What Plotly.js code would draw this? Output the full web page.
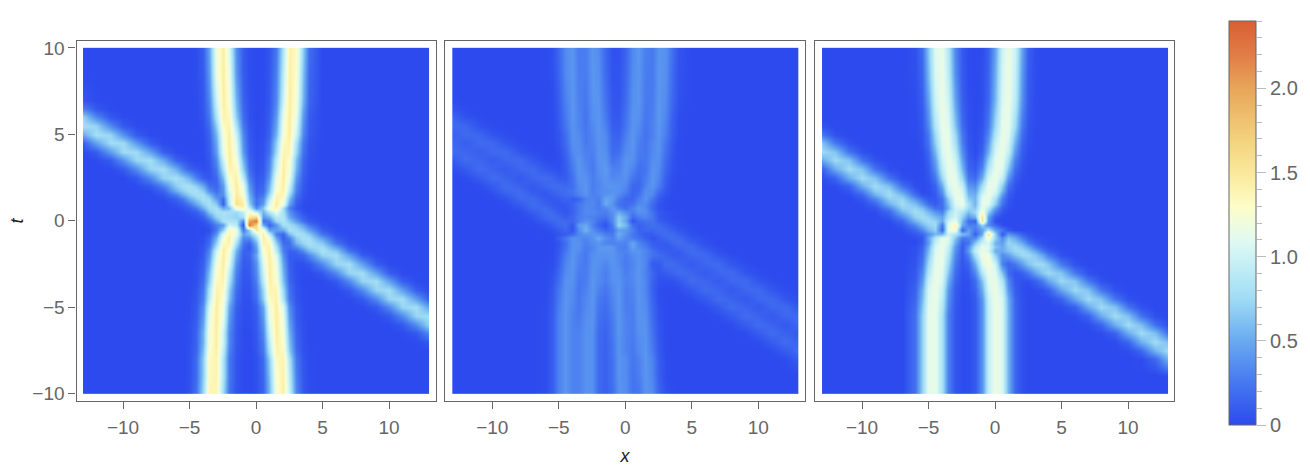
<!DOCTYPE html>
<html>
<head>
<meta charset="utf-8">
<script src="https://cdn.plot.ly/plotly-3.0.1.min.js"></script>
<style>html,body{margin:0;padding:0;background:#fff}</style>
</head>
<body>
<div id="chart" style="width:1310px;height:474px"></div>
<script>
// sample positions, rows below run from t=10 down to t=-10
let xVals = [-13,-12,-11,-10,-9,-8,-7,-6,-5.5,-5,-4.5,-4,-3.5,-3,-2.5,-2,-1.5,-1,-0.5,0,0.5,1,1.5,2,2.5,3,3.5,4,5,6,7,8,9,10,11,12,13];
let tVals = [10,8.5,7,6.5,6,5.5,5,4.5,4,3.5,3,2.5,2,1.75,1.5,1.25,1,0.75,0.5,0.25,0,-0.25,-0.5,-0.75,-1,-1.25,-1.5,-1.75,-2,-2.5,-3,-3.5,-4,-4.5,-5,-5.5,-6,-6.5,-7,-7.5,-8,-9,-10];

// values, in hundredths
let panelA = [
[0,0,0,0,0,0,0,0,0,0,2,12,48,119,145,107,37,9,2,0,1,6,25,83,140,133,68,19,0,0,0,0,0,0,0,0,0],
[0,0,0,0,0,0,0,0,0,0,2,10,42,115,145,115,42,10,2,0,1,7,29,91,142,128,61,16,0,0,0,0,0,0,0,0,0],
[7,1,0,0,0,0,0,0,0,0,1,8,33,99,144,123,55,14,3,0,1,8,33,99,144,123,55,14,0,0,0,0,0,0,0,0,0],
[30,8,1,0,0,0,0,0,0,0,1,7,29,91,142,128,61,16,4,0,2,9,37,107,145,119,48,12,0,0,0,0,0,0,0,0,0],
[70,33,8,1,0,0,0,0,0,0,1,6,25,83,140,133,68,19,4,0,2,10,42,115,145,115,42,10,0,0,0,0,0,0,0,0,0],
[78,71,35,9,1,0,0,0,0,0,0,4,19,68,133,140,83,25,6,1,2,12,48,119,145,107,37,9,0,0,0,0,0,0,0,0,0],
[49,78,73,39,10,1,0,0,0,0,0,3,14,55,123,144,99,33,8,1,3,14,55,123,144,99,33,8,0,0,0,0,0,0,0,0,0],
[12,46,76,75,42,11,1,0,0,0,0,2,12,48,119,145,107,37,9,2,4,19,68,133,140,83,25,6,0,0,0,0,0,0,0,0,0],
[1,11,42,75,76,46,12,1,0,0,0,2,10,42,115,145,115,42,10,2,5,22,75,138,138,75,22,5,0,0,0,0,0,0,0,0,0],
[0,1,10,39,73,78,49,13,7,2,0,1,8,33,99,144,123,55,14,3,7,29,91,142,128,61,16,4,0,0,0,0,0,0,0,0,0],
[0,0,1,9,35,72,78,52,28,14,7,3,6,25,83,140,133,68,19,4,8,33,99,144,123,55,14,3,0,0,0,0,0,0,0,0,0],
[0,0,0,0,8,33,70,79,68,54,29,12,7,16,61,128,142,91,29,7,11,42,115,145,115,42,10,2,0,0,0,0,0,0,0,0,0],
[0,0,0,0,1,8,30,68,79,80,69,49,21,15,43,115,145,115,42,10,16,55,123,144,99,33,8,1,0,0,0,0,0,0,0,0,0],
[0,0,0,0,0,2,14,52,68,78,80,67,36,20,40,107,145,119,48,12,18,61,128,142,91,29,7,1,0,0,0,0,0,0,0,0,0],
[0,0,0,0,0,0,7,28,51,67,78,78,60,30,37,99,148,128,55,14,25,75,138,138,75,22,5,1,0,0,0,0,0,0,0,0,0],
[0,0,0,0,0,0,2,13,27,49,67,80,74,46,18,96,150,135,60,22,35,91,142,128,61,16,4,1,0,0,0,0,0,0,0,0,0],
[0,0,0,0,0,0,0,6,13,26,49,69,80,66,12,91,155,145,70,20,42,107,145,119,48,12,2,0,0,0,0,0,0,0,0,0,0],
[0,0,0,0,0,0,0,2,6,12,26,54,76,80,50,60,125,135,95,35,65,125,140,80,30,8,1,0,0,0,0,0,0,0,0,0,0],
[0,0,0,0,0,0,0,0,2,6,12,29,64,80,80,78,75,95,130,95,55,85,115,80,40,18,5,1,0,0,0,0,0,0,0,0,0],
[0,0,0,0,0,0,0,0,1,2,5,13,37,70,80,75,70,80,150,165,40,55,90,85,50,28,12,4,0,0,0,0,0,0,0,0,0],
[0,0,0,0,0,0,0,0,0,1,2,6,19,49,80,84,80,35,200,225,20,30,75,85,65,42,20,8,1,0,0,0,0,0,0,0,0],
[0,0,0,0,0,0,0,0,0,0,1,2,9,27,45,100,90,5,225,170,50,15,40,80,77,65,45,23,4,0,0,0,0,0,0,0,0],
[0,0,0,0,0,0,0,0,0,0,0,1,3,25,70,135,120,25,70,150,125,45,45,50,80,77,65,45,11,1,0,0,0,0,0,0,0],
[0,0,0,0,0,0,0,0,0,0,1,2,8,37,107,135,115,45,60,100,142,91,29,15,59,80,77,65,23,4,0,0,0,0,0,0,0],
[0,0,0,0,0,0,0,0,0,0,0,4,14,55,123,144,99,33,35,75,145,119,48,12,30,67,80,77,45,11,1,0,0,0,0,0,0],
[0,0,0,0,0,0,0,0,0,0,1,4,19,68,133,140,83,25,15,55,140,133,68,19,18,57,72,80,65,23,4,0,0,0,0,0,0],
[0,0,0,0,0,0,0,0,0,0,2,6,25,83,140,133,68,19,8,45,133,140,83,25,20,34,57,72,77,45,11,1,0,0,0,0,0],
[0,0,0,0,0,0,0,0,0,0,1,8,33,99,144,123,55,14,12,40,128,142,91,29,12,16,34,57,80,65,23,4,0,0,0,0,0],
[0,0,0,0,0,0,0,0,0,0,1,9,37,107,145,119,48,12,15,48,119,145,107,37,9,11,16,34,72,77,45,11,1,0,0,0,0],
[0,0,0,0,0,0,0,0,0,0,3,12,48,119,145,107,37,9,11,37,107,145,119,48,12,3,3,8,34,72,77,45,11,1,0,0,0],
[0,0,0,0,0,0,0,0,0,0,4,16,61,128,142,91,29,7,9,33,99,144,123,55,14,3,1,1,8,34,72,77,45,11,1,0,0],
[0,0,0,0,0,0,0,0,0,0,4,19,68,133,140,83,25,6,7,29,91,142,128,61,16,4,0,0,1,8,34,72,77,45,11,1,0],
[0,0,0,0,0,0,0,0,0,1,6,25,83,140,133,68,19,4,5,22,75,138,138,75,22,5,1,0,0,1,8,34,72,77,45,11,1],
[0,0,0,0,0,0,0,0,0,1,7,29,91,142,128,61,16,4,4,19,68,133,140,83,25,6,1,0,0,0,1,8,34,72,77,45,11],
[0,0,0,0,0,0,0,0,0,2,9,37,107,145,119,48,12,3,3,12,48,119,145,107,37,9,2,0,0,0,0,1,8,34,72,77,45],
[0,0,0,0,0,0,0,0,0,2,10,42,115,145,115,42,10,2,2,10,42,115,145,115,42,10,2,0,0,0,0,0,1,8,34,72,77],
[0,0,0,0,0,0,0,0,0,3,12,48,119,145,107,37,9,2,2,9,37,107,145,119,48,12,3,0,0,0,0,0,0,1,8,34,72],
[0,0,0,0,0,0,0,0,0,3,14,55,123,144,99,33,8,1,1,8,33,99,144,123,55,14,3,0,0,0,0,0,0,0,1,8,34],
[0,0,0,0,0,0,0,0,0,3,14,55,123,144,99,33,8,1,1,7,29,91,142,128,61,16,4,0,0,0,0,0,0,0,0,1,8],
[0,0,0,0,0,0,0,0,0,4,16,61,128,142,91,29,7,1,0,6,25,83,140,133,68,19,4,1,0,0,0,0,0,0,0,0,1],
[0,0,0,0,0,0,0,0,0,4,19,68,133,140,83,25,6,1,0,4,19,68,133,140,83,25,6,1,0,0,0,0,0,0,0,0,0],
[0,0,0,0,0,0,0,0,0,4,19,68,133,140,83,25,6,1,0,4,16,61,128,142,91,29,7,1,0,0,0,0,0,0,0,0,0],
[0,0,0,0,0,0,0,0,0,5,22,75,138,138,75,22,5,1,0,3,14,55,123,144,99,33,8,2,0,0,0,0,0,0,0,0,0]
];
let panelB = [
[0,0,0,0,0,0,0,1,4,16,35,40,27,27,40,35,16,4,4,14,34,41,28,26,39,38,20,6,0,0,0,0,0,0,0,0,0],
[0,0,0,0,0,0,0,1,3,14,34,40,28,27,40,37,18,5,5,16,35,40,27,26,40,37,18,5,0,0,0,0,0,0,0,0,0],
[1,0,0,0,0,0,0,0,2,11,30,40,30,25,39,39,22,7,6,18,37,40,26,27,40,35,16,4,0,0,0,0,0,0,0,0,0],
[5,1,0,0,0,0,0,0,2,10,28,40,31,24,37,39,24,8,7,20,38,39,25,28,41,34,14,3,0,0,0,0,0,0,0,0,0],
[15,5,1,0,0,0,0,0,1,9,26,40,32,24,37,40,26,9,8,22,39,38,24,29,41,32,12,2,0,0,0,0,0,0,0,0,0],
[18,16,5,1,0,0,0,0,1,8,24,39,32,24,34,40,30,11,10,24,39,35,24,30,40,30,11,2,0,0,0,0,0,0,0,0,0],
[12,18,16,6,2,0,0,0,1,6,20,38,35,25,32,40,34,14,13,28,40,32,22,30,40,28,10,2,0,0,0,0,0,0,0,0,0],
[16,11,18,17,7,2,0,0,1,5,18,37,36,26,31,39,35,16,16,32,40,28,24,33,39,24,8,1,0,0,0,0,0,0,0,0,0],
[19,16,11,17,18,7,2,0,0,3,14,34,37,29,29,39,37,18,21,35,39,27,24,34,39,22,7,1,0,0,0,0,0,0,0,0,0],
[9,19,15,10,16,18,8,2,1,2,11,30,40,31,27,39,39,22,27,39,37,25,25,36,37,18,5,1,0,0,0,0,0,0,0,0,0],
[2,9,19,14,9,16,18,8,5,3,10,26,40,34,26,37,42,30,30,40,32,20,24,39,35,16,4,1,0,0,0,0,0,0,0,0,0],
[0,2,9,19,14,8,15,19,15,10,10,22,38,38,28,34,40,33,35,38,24,18,27,40,32,12,2,0,0,0,0,0,0,0,0,0,0],
[0,0,2,9,19,13,8,15,19,19,17,20,35,40,28,32,39,40,38,34,16,15,32,40,28,10,2,0,0,0,0,0,0,0,0,0,0],
[0,0,1,5,16,18,9,9,14,18,19,24,33,40,28,34,36,38,38,30,15,18,36,36,20,7,1,0,0,0,0,0,0,0,0,0,0],
[0,0,0,2,10,19,13,7,10,14,18,22,30,38,30,32,40,42,34,24,14,22,38,32,14,5,1,0,0,0,0,0,0,0,0,0,0],
[0,0,0,1,5,16,18,9,7,9,14,10,14,30,32,28,48,42,26,16,16,28,38,24,9,3,0,0,0,0,0,0,0,0,0,0,0],
[0,0,0,0,2,10,19,12,9,7,9,15,25,32,34,26,50,38,22,18,22,34,34,18,6,2,0,0,0,0,0,0,0,0,0,0,0],
[0,0,0,0,1,5,16,18,12,8,7,14,25,34,32,28,34,42,30,20,30,40,34,16,6,2,0,0,0,0,0,0,0,0,0,0,0],
[0,0,0,0,0,2,10,19,17,11,6,14,25,34,34,30,28,38,50,36,28,38,36,22,8,4,2,1,0,0,0,0,0,0,0,0,0],
[0,0,0,0,0,1,5,16,19,17,11,16,27,32,30,26,22,36,66,50,18,28,32,24,9,4,2,1,0,0,0,0,0,0,0,0,0],
[0,0,0,0,0,0,2,10,16,19,17,16,28,38,32,20,12,34,68,48,6,18,22,22,12,7,3,2,0,0,0,0,0,0,0,0,0],
[0,0,0,0,0,0,1,5,10,16,19,8,42,50,30,15,5,28,72,58,22,12,18,22,18,12,7,3,1,0,0,0,0,0,0,0,0],
[0,0,0,0,0,0,0,2,5,10,16,5,35,55,36,26,15,22,45,42,28,14,16,16,19,18,12,7,2,0,0,0,0,0,0,0,0],
[0,0,0,0,0,0,0,1,2,6,10,18,32,40,40,38,28,26,52,38,25,16,10,10,16,19,18,12,3,1,0,0,0,0,0,0,0],
[0,0,0,0,0,0,0,0,1,11,25,38,36,32,38,50,36,30,44,34,28,22,12,6,10,16,19,18,7,2,0,0,0,0,0,0,0],
[0,0,0,0,0,0,0,0,1,6,20,38,38,28,36,40,32,30,32,30,48,32,22,11,10,10,16,19,12,3,0,0,0,0,0,0,0],
[0,0,0,0,0,0,0,0,1,7,22,39,37,27,32,40,42,40,30,28,46,34,28,15,11,9,10,16,18,7,2,0,0,0,0,0,0],
[0,0,0,0,0,0,0,0,1,8,24,39,35,26,34,40,40,40,32,30,39,40,32,22,14,11,9,10,19,12,3,0,0,0,0,0,0],
[0,0,0,0,0,0,0,0,2,10,28,40,32,26,37,39,38,40,34,28,35,39,32,22,19,14,10,9,16,18,7,2,0,0,0,0,0],
[0,0,0,0,0,0,0,1,2,12,32,40,30,26,38,38,32,39,35,26,32,40,32,9,9,19,19,15,9,16,18,7,2,0,0,0,0],
[0,0,0,0,0,0,0,1,4,16,35,39,27,27,39,35,28,38,38,28,34,40,30,16,6,10,14,19,15,9,16,18,7,2,0,0,0],
[0,0,0,0,0,0,0,1,6,20,38,38,25,28,40,34,28,37,39,30,33,40,32,13,5,3,4,8,19,15,9,16,18,7,2,0,0],
[0,0,0,0,0,0,0,1,8,24,39,35,24,30,40,30,24,34,40,28,31,40,32,12,2,1,1,2,8,19,15,8,16,18,7,2,0],
[0,0,0,0,0,0,0,1,9,26,40,34,25,33,40,26,21,32,40,28,30,40,34,14,3,1,0,0,2,8,19,14,8,16,18,7,2],
[0,0,0,0,0,0,0,2,10,28,40,32,25,34,39,24,19,30,40,28,28,39,35,16,4,1,0,0,0,2,9,19,14,8,16,18,7],
[0,0,0,0,0,0,0,2,11,30,40,30,26,36,39,22,17,28,40,30,28,39,37,18,5,1,0,0,0,0,2,9,19,14,8,16,18],
[0,0,0,0,0,0,0,2,11,30,40,30,28,37,38,20,15,26,40,31,28,38,38,20,6,1,0,0,0,0,0,2,10,19,14,8,16],
[0,0,0,0,0,0,0,2,11,30,40,30,30,38,37,18,14,26,40,31,27,37,39,22,7,1,0,0,0,0,0,0,2,10,19,13,8],
[0,0,0,0,0,0,0,2,11,30,40,30,30,38,37,18,13,24,39,31,26,35,39,24,8,1,0,0,0,0,0,0,0,2,10,19,13],
[0,0,0,0,0,0,0,2,11,30,40,30,30,38,37,18,13,24,39,31,25,34,40,26,9,1,0,0,0,0,0,0,0,0,2,10,19],
[0,0,0,0,0,0,0,2,11,30,40,30,30,38,37,18,13,22,39,35,24,30,40,30,11,2,0,0,0,0,0,0,0,0,0,2,10],
[0,0,0,0,0,0,0,2,11,30,40,30,30,38,37,18,13,22,39,35,23,28,40,32,12,2,0,0,0,0,0,0,0,0,0,0,0],
[0,0,0,0,0,0,0,2,11,30,40,30,30,38,37,18,12,20,38,36,23,24,39,35,16,4,1,0,0,0,0,0,0,0,0,0,0]
];
let panelC = [
[0,0,0,0,0,0,0,4,19,63,110,116,86,33,8,1,0,2,12,46,100,118,100,46,12,2,0,0,0,0,0,0,0,0,0,0,0],
[0,0,0,0,0,0,0,3,16,57,107,117,91,37,9,1,0,3,14,52,104,118,96,41,10,2,0,0,0,0,0,0,0,0,0,0,0],
[0,0,0,0,0,0,0,2,12,46,100,118,100,46,12,2,0,3,16,57,107,117,91,37,9,1,0,0,0,0,0,0,0,0,0,0,0],
[0,0,0,0,0,0,0,2,10,41,96,118,104,52,14,3,0,4,19,63,110,116,86,33,8,1,0,0,0,0,0,0,0,0,0,0,0],
[0,0,0,0,0,0,0,1,9,37,91,117,107,57,16,3,0,5,22,69,112,115,80,29,7,1,0,0,0,0,0,0,0,0,0,0,0],
[4,0,0,0,0,0,0,1,8,33,86,116,110,63,19,4,0,6,25,75,114,114,75,25,6,1,0,0,0,0,0,0,0,0,0,0,0],
[25,4,0,0,0,0,0,1,6,25,75,114,114,75,25,6,1,8,33,86,116,110,63,19,4,0,0,0,0,0,0,0,0,0,0,0,0],
[63,25,4,0,0,0,0,0,5,22,69,112,115,80,29,7,1,10,41,96,118,104,52,14,3,0,0,0,0,0,0,0,0,0,0,0,0],
[75,63,23,4,0,0,0,0,3,16,57,107,117,91,37,9,1,14,52,104,118,96,41,10,2,0,0,0,0,0,0,0,0,0,0,0,0],
[50,75,62,23,4,0,0,0,2,12,46,100,118,100,46,12,5,22,69,112,115,80,29,7,1,0,0,0,0,0,0,0,0,0,0,0,0],
[13,51,76,62,22,3,0,0,1,9,37,91,117,107,57,16,9,33,86,116,110,63,19,4,0,0,0,0,0,0,0,0,0,0,0,0,0],
[2,14,52,76,61,22,3,0,1,6,25,75,114,114,75,25,18,52,104,118,96,41,10,2,0,0,0,0,0,0,0,0,0,0,0,0,0],
[0,2,14,52,76,60,21,3,1,3,14,52,104,118,96,41,35,80,115,112,69,22,5,0,0,0,0,0,0,0,0,0,0,0,0,0,0],
[0,0,7,30,67,73,41,10,0,3,10,41,96,118,104,52,45,91,117,107,57,16,3,0,0,0,0,0,0,0,0,0,0,0,0,0,0],
[0,0,2,15,53,76,60,21,6,4,8,33,86,116,110,58,52,104,118,96,41,10,2,0,0,0,0,0,0,0,0,0,0,0,0,0,0],
[0,0,0,7,32,68,72,40,21,8,8,22,69,112,115,68,55,112,115,80,29,7,1,0,0,0,0,0,0,0,0,0,0,0,0,0,0],
[0,0,0,2,15,54,76,60,40,20,10,22,60,107,117,80,55,115,112,69,22,5,0,0,0,0,0,0,0,0,0,0,0,0,0,0,0],
[0,0,0,0,7,32,69,72,60,40,20,20,55,100,105,75,65,118,90,45,12,3,0,0,0,0,0,0,0,0,0,0,0,0,0,0,0],
[0,0,0,0,2,16,55,76,72,58,40,30,75,100,85,60,75,130,70,28,7,1,0,0,0,0,0,0,0,0,0,0,0,0,0,0,0],
[0,0,0,0,0,8,33,69,76,71,58,48,85,105,70,40,55,155,45,10,2,0,0,0,0,0,0,0,0,0,0,0,0,0,0,0,0],
[0,0,0,0,0,2,16,55,69,76,71,50,100,115,60,20,15,160,40,3,0,0,0,0,0,0,0,0,0,0,0,0,0,0,0,0,0],
[0,0,0,0,0,0,8,33,56,69,76,25,110,140,50,30,30,70,35,18,3,0,0,0,0,0,0,0,0,0,0,0,0,0,0,0,0],
[0,0,0,0,0,0,2,16,33,56,69,15,115,125,15,45,25,45,85,45,25,8,1,0,0,0,0,0,0,0,0,0,0,0,0,0,0],
[0,0,0,0,0,0,0,8,16,35,56,55,100,85,60,50,12,50,155,70,8,40,28,13,5,2,0,0,0,0,0,0,0,0,0,0,0],
[0,0,0,0,0,0,0,3,8,45,86,116,110,63,25,30,35,80,130,70,35,63,50,28,13,5,2,1,0,0,0,0,0,0,0,0,0],
[0,0,0,0,0,0,0,0,10,41,96,118,104,52,14,22,65,100,105,55,45,72,65,50,28,13,5,2,0,0,0,0,0,0,0,0,0],
[0,0,0,0,0,0,0,3,14,52,104,118,96,41,10,36,86,116,110,63,50,68,75,65,50,27,13,5,1,0,0,0,0,0,0,0,0],
[0,0,0,0,0,0,0,3,16,57,107,117,91,37,9,41,96,118,104,52,50,62,74,75,65,49,27,13,2,0,0,0,0,0,0,0,0],
[0,0,0,0,0,0,0,4,19,63,110,116,86,33,8,29,80,120,122,69,35,44,63,74,75,65,49,27,4,0,0,0,0,0,0,0,0],
[0,0,0,0,0,0,0,6,25,75,114,114,75,25,6,14,52,108,125,100,30,15,25,45,63,74,75,64,26,4,0,0,0,0,0,0,0],
[0,0,0,0,0,0,0,8,33,86,116,110,63,19,4,8,33,86,116,110,63,19,6,12,25,47,64,74,64,25,4,0,0,0,0,0,0],
[0,0,0,0,0,0,0,10,41,96,118,104,52,14,3,4,19,63,110,116,86,33,8,4,4,12,26,47,74,63,25,4,0,0,0,0,0],
[0,0,0,0,0,0,0,14,52,104,118,96,41,10,2,3,14,52,104,118,96,41,10,2,0,2,5,12,48,74,63,24,4,0,0,0,0],
[0,0,0,0,0,0,0,16,57,107,117,91,37,9,1,2,10,41,96,118,104,52,14,3,0,0,1,2,13,49,75,62,23,4,0,0,0],
[0,0,0,0,0,0,0,19,63,110,116,86,33,8,1,2,9,39,94,118,106,54,15,3,0,0,0,0,2,13,50,75,62,23,4,0,0],
[0,0,0,0,0,0,0,22,69,112,115,80,29,7,1,2,9,39,93,118,106,55,15,3,0,0,0,0,0,2,13,51,76,62,23,3,0],
[0,0,0,0,0,0,0,22,69,112,115,80,29,7,1,2,9,39,93,118,106,55,15,3,0,0,0,0,0,0,2,14,52,76,61,22,3],
[0,0,0,0,0,0,0,22,69,112,115,80,29,7,1,2,9,39,93,118,106,55,15,3,0,0,0,0,0,0,0,2,14,52,76,60,21],
[0,0,0,0,0,0,0,22,69,112,115,80,29,7,1,2,9,39,93,118,106,55,15,3,0,0,0,0,0,0,0,0,2,15,53,76,60],
[0,0,0,0,0,0,0,22,69,112,115,80,29,7,1,2,9,39,93,118,106,55,15,3,0,0,0,0,0,0,0,0,0,2,15,54,76],
[0,0,0,0,0,0,0,22,69,112,115,80,29,7,1,2,9,39,93,118,106,55,15,3,0,0,0,0,0,0,0,0,0,0,2,16,55],
[0,0,0,0,0,0,0,22,69,112,115,80,29,7,1,2,9,39,93,118,106,55,15,3,0,0,0,0,0,0,0,0,0,0,0,0,2],
[0,0,0,0,0,0,0,22,69,112,115,80,29,7,1,2,9,39,93,118,106,55,15,3,0,0,0,0,0,0,0,0,0,0,0,0,0]
];

let barStops = [0,0.25,0.5,0.75,1,1.1,1.2,1.3,1.4,1.5,1.7,2,2.2,2.4];
let barColors = ['rgb(44,74,238)','rgb(70,120,240)','rgb(105,170,240)','rgb(160,220,245)','rgb(205,243,245)','rgb(225,250,240)','rgb(240,252,220)','rgb(253,253,200)','rgb(252,243,175)','rgb(250,232,155)','rgb(243,210,125)','rgb(232,165,90)','rgb(225,125,70)','rgb(217,95,50)'];
let barTicks = [0,0.5,1,1.5,2];
let barLabels = ['0','0.5','1.0','1.5','2.0'];
let axisTicks = [-10,-5,0,5,10];
let axisLabels = ['\u221210','\u22125','0','5','10'];

const W = 1310, H = 474;
const zMax = 2.4;
const GREY = '#666666';
const tickFont = {family:'Liberation Sans, Arial, sans-serif', size:19, color:GREY};
const barFont = {family:'Liberation Sans, Arial, sans-serif', size:20, color:GREY};
const titleFont = {family:'Liberation Sans, Arial, sans-serif', size:18, color:'#222222'};

// heatmap cells reach half a step past the last sample, so pin the outer cells with a tiny step
function pinGrid(vals){
    let out = vals.slice();
    out.splice(1,0,vals[0]+0.01);
    out.splice(out.length-1,0,vals[vals.length-1]-0.01);
    return out;
}
function pinRows(rows){
    let out = rows.slice().reverse().map(r => {
        let row = r.map(v => v/100);
        return [row[0]].concat(row, [row[row.length-1]]);
    });
    return [out[0]].concat(out, [out[out.length-1]]);
}
let colorscale = barStops.map((s,i) => [s/zMax, barColors[i]]);
let xGrid = pinGrid(xVals);
let tGrid = pinGrid(tVals.slice().reverse());

function panelTrace(rows,n,withBar){
    let trace = {
        type:'heatmap', x:xGrid, y:tGrid, z:pinRows(rows),
        xaxis:'x'+n, yaxis:'y'+n,
        zmin:0, zmax:zMax, zsmooth:'best', colorscale:colorscale,
        hoverinfo:'skip', showscale:withBar
    };
    if(withBar){
        trace.colorbar = {
            lenmode:'pixels', len:404, thicknessmode:'pixels', thickness:27,
            x:1229/W, xanchor:'left', xpad:0,
            y:1-21/H, yanchor:'top', ypad:0,
            outlinecolor:GREY, outlinewidth:1,
            showticklabels:false, ticks:''
        };
    }
    return trace;
}
// carries the ticks next to the colour bar
let barAxisTrace = {type:'scatter', x:[0], y:[0], xaxis:'x4', yaxis:'y4', mode:'lines', hoverinfo:'skip', showlegend:false};

function xAxis(left,right,zero,title){
    let ax = {
        domain:[left/W,right/W], range:[(left-zero)/13.3,(right-zero)/13.3],
        tickmode:'array', tickvals:axisTicks, ticktext:axisLabels, tickfont:tickFont,
        ticks:'outside', ticklen:7, tickcolor:GREY, tickwidth:1, ticklabelstandoff:2,
        showline:true, linecolor:GREY, linewidth:1.2, mirror:true,
        showgrid:false, zeroline:false
    };
    if(title){ ax.title = {text:title, font:titleFont, standoff:12}; }
    return ax;
}
function yAxis(anchor,labels){
    return {
        anchor:anchor, domain:[1-401/H,1-41/H], range:[-10.43,10.4],
        tickmode:'array', tickvals:axisTicks, ticktext:axisLabels, tickfont:tickFont,
        ticks:labels ? 'outside' : '', ticklen:7, tickcolor:GREY, tickwidth:1,
        showticklabels:labels,
        showline:true, linecolor:GREY, linewidth:1.2, mirror:true,
        showgrid:false, zeroline:false
    };
}

let layout = {
    width:W, height:H, margin:{l:0,r:0,t:0,b:0},
    paper_bgcolor:'#ffffff', plot_bgcolor:'#ffffff', showlegend:false,
    xaxis:xAxis(76.5,436,256),
    yaxis:yAxis('x',true),
    xaxis2:xAxis(445,805,625.3,'<i>x</i>'),
    yaxis2:yAxis('x2',false),
    xaxis3:xAxis(815,1174,995),
    yaxis3:yAxis('x3',false),
    xaxis4:{domain:[1229/W,1256/W], range:[0,1], visible:false, anchor:'y4'},
    yaxis4:{
        domain:[1-425/H,1-21/H], range:[0,zMax], anchor:'x4', side:'right',
        tickmode:'array', tickvals:barTicks, ticktext:barLabels, tickfont:barFont,
        ticks:'outside', ticklen:9, tickcolor:'#bbbbbb', tickwidth:1,
        minor:{dtick:0.1, tick0:0, ticks:'outside', ticklen:5, tickcolor:'#bbbbbb', tickwidth:1, showgrid:false},
        showline:false, showgrid:false, zeroline:false
    }
};
layout.yaxis.title = {text:'<i>t</i>', font:titleFont, standoff:4};

Plotly.newPlot('chart',[panelTrace(panelA,'',true),panelTrace(panelB,'2',false),panelTrace(panelC,'3',false),barAxisTrace],layout,{displayModeBar:false});
</script>
</body>
</html>
